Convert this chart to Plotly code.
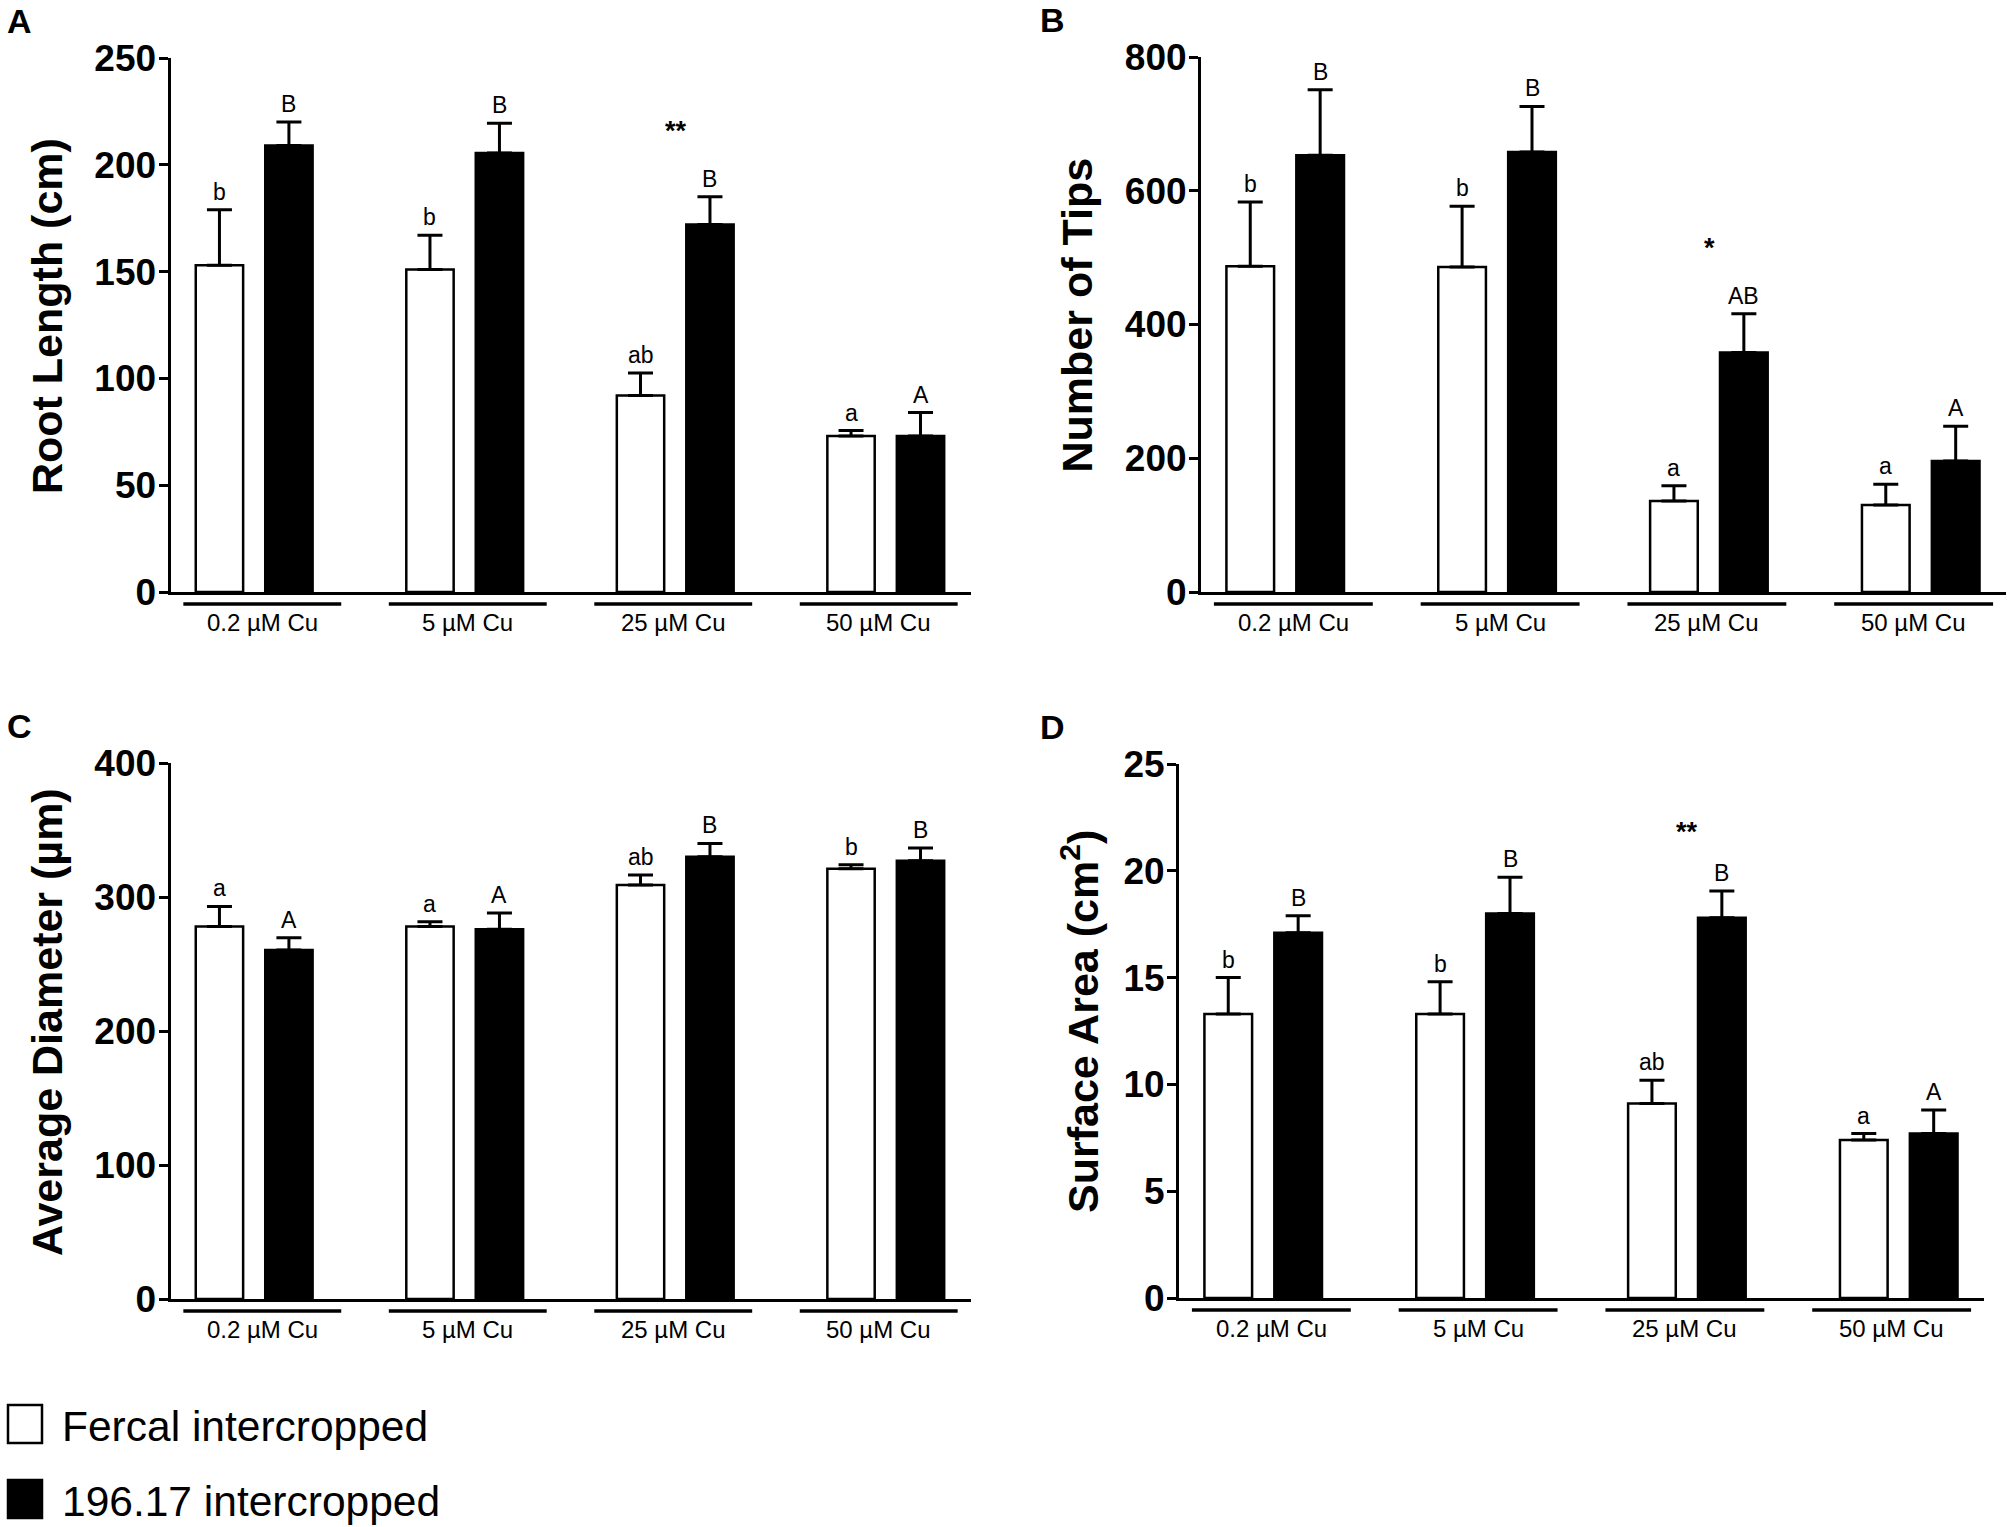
import plotly.graph_objects as go

# Data
categories = ["0.2 µM Cu", "5 µM Cu", "25 µM Cu", "50 µM Cu"]

root_fercal = [153, 151, 92, 73]
root_fercal_err = [26, 16, 10.5, 2.6]
root_196 = [209, 205.5, 172, 73]
root_196_err = [11, 14, 13, 11]
root_letters_fercal = ["b", "b", "ab", "a"]
root_letters_196 = ["B", "B", "B", "A"]

tips_fercal = [487, 486, 136, 130]
tips_fercal_err = [96, 91, 23, 31]
tips_196 = [653, 658, 358, 196]
tips_196_err = [98, 68, 58, 52]
tips_letters_fercal = ["b", "b", "a", "a"]
tips_letters_196 = ["B", "B", "AB", "A"]

diam_fercal = [278, 278, 309, 321]
diam_fercal_err = [15, 3.5, 7.5, 3]
diam_196 = [260.5, 276, 330, 327]
diam_196_err = [9, 12, 10, 9.5]
diam_letters_fercal = ["a", "a", "ab", "b"]
diam_letters_196 = ["A", "A", "B", "B"]

area_fercal = [13.3, 13.3, 9.1, 7.4]
area_fercal_err = [1.7, 1.5, 1.1, 0.3]
area_196 = [17.1, 18.0, 17.8, 7.7]
area_196_err = [0.8, 1.7, 1.25, 1.1]
area_letters_fercal = ["b", "b", "ab", "a"]
area_letters_196 = ["B", "B", "B", "A"]

series_names = ["Fercal intercropped", "196.17 intercropped"]

W, H = 2007, 1527
FONT = "Liberation Sans, Arial, sans-serif"
WHITE_OFF, BLACK_OFF, BAR_W = -0.28, 0.05, 0.225


def fx(p):
    return p / W


def fy(p):
    return 1 - p / H


# panel: letter, y title, y range, dtick, data, stars, pixel box (x0, x1, ytop, ybottom), title x
panels = [
    dict(tag="A", title="Root Length (cm)", ymax=250, dtick=50,
         f=root_fercal, fe=root_fercal_err, b=root_196, be=root_196_err,
         lf=root_letters_fercal, lb=root_letters_196, star=(2, "**", 216),
         box=(170.5, 970.5, 58, 592), tx=47),
    dict(tag="B", title="Number of Tips", ymax=800, dtick=200,
         f=tips_fercal, fe=tips_fercal_err, b=tips_196, be=tips_196_err,
         lf=tips_letters_fercal, lb=tips_letters_196, star=(2, "*", 514),
         box=(1201, 2006, 57, 592), tx=1076),
    dict(tag="C", title="Average Diameter (µm)", ymax=400, dtick=100,
         f=diam_fercal, fe=diam_fercal_err, b=diam_196, be=diam_196_err,
         lf=diam_letters_fercal, lb=diam_letters_196, star=None,
         box=(170.5, 970.5, 763, 1299), tx=47),
    dict(tag="D", title="Surface Area (cm<sup>2</sup>)", ymax=25, dtick=5,
         f=area_fercal, fe=area_fercal_err, b=area_196, be=area_196_err,
         lf=area_letters_fercal, lb=area_letters_196, star=(2, "**", 21.8),
         box=(1179, 1984, 764, 1298), tx=1080),
]

xpos = list(range(len(categories)))

fig = go.Figure()
annotations = []
shapes = []

for k, p in enumerate(panels, start=1):
    xa = "x" if k == 1 else f"x{k}"
    ya = "y" if k == 1 else f"y{k}"
    x0, x1, ytop, ybot = p["box"]

    fig.add_trace(go.Bar(
        x=xpos, y=p["f"], name=series_names[0], xaxis=xa, yaxis=ya,
        offset=WHITE_OFF, width=BAR_W,
        marker=dict(color="white", line=dict(color="black", width=2.5)),
        error_y=dict(type="data", symmetric=False, array=p["fe"],
                     arrayminus=[0] * len(p["fe"]), color="black",
                     thickness=3, width=12.5),
        showlegend=False,
    ))
    fig.add_trace(go.Bar(
        x=xpos, y=p["b"], name=series_names[1], xaxis=xa, yaxis=ya,
        offset=BLACK_OFF, width=BAR_W,
        marker=dict(color="black", line=dict(color="black", width=2.5)),
        error_y=dict(type="data", symmetric=False, array=p["be"],
                     arrayminus=[0] * len(p["be"]), color="black",
                     thickness=3, width=12.5),
        showlegend=False,
    ))

    fig.layout[xa.replace("x", "xaxis")] = dict(
        domain=[fx(x0), fx(x1)], anchor=ya, range=[-0.4, 3.4],
        showline=True, linewidth=3, linecolor="black", ticks="",
        showticklabels=False, showgrid=False, zeroline=False, fixedrange=True,
        automargin=False,
    )
    fig.layout[ya.replace("y", "yaxis")] = dict(
        domain=[fy(ybot), fy(ytop)], anchor=xa, range=[0, p["ymax"]],
        dtick=p["dtick"], showline=True, linewidth=3, linecolor="black",
        ticks="outside", ticklen=9, tickwidth=3, tickcolor="black",
        ticklabelstandoff=-5,
        tickfont=dict(family=FONT, size=37, color="black", weight="bold"),
        showgrid=False, zeroline=False, fixedrange=True, automargin=False,
    )

    # significance letters above the error bars
    for i in xpos:
        annotations.append(dict(
            x=i + WHITE_OFF + BAR_W / 2, y=p["f"][i] + p["fe"][i],
            xref=xa, yref=ya, text=p["lf"][i], showarrow=False,
            yanchor="bottom", yshift=3,
            font=dict(family=FONT, size=23, color="black")))
        annotations.append(dict(
            x=i + BLACK_OFF + BAR_W / 2, y=p["b"][i] + p["be"][i],
            xref=xa, yref=ya, text=p["lb"][i], showarrow=False,
            yanchor="bottom", yshift=3,
            font=dict(family=FONT, size=23, color="black")))

    if p["star"]:
        si, stxt, sy = p["star"]
        annotations.append(dict(
            x=si, y=sy, xref=xa, yref=ya, text=stxt, showarrow=False,
            yanchor="middle",
            font=dict(family=FONT, size=27, color="black", weight="bold")))

    # group underlines and labels
    for i, cat in enumerate(categories):
        cx = 1.5 + (i - 1.5) * 0.976
        shapes.append(dict(
            type="line", xref=xa, yref="paper",
            x0=cx - 0.375, x1=cx + 0.375, y0=fy(ybot + 12), y1=fy(ybot + 12),
            line=dict(color="black", width=3.5)))
        annotations.append(dict(
            x=cx, y=fy(ybot + 30), xref=xa, yref="paper", text=cat,
            showarrow=False, yanchor="middle",
            font=dict(family=FONT, size=24, color="black")))

    # y axis title
    annotations.append(dict(
        x=fx(p["tx"]), y=fy((ytop + ybot) / 2 - 9), xref="paper", yref="paper",
        text=p["title"], textangle=-90, showarrow=False,
        xanchor="center", yanchor="middle",
        font=dict(family=FONT, size=43, color="black", weight="bold")))

    # panel letter
    annotations.append(dict(
        x=fx(19 if p["tag"] in "AC" else 1052), y=fy(ytop - 37),
        xref="paper", yref="paper", text=p["tag"], showarrow=False,
        xanchor="center", yanchor="middle",
        font=dict(family=FONT, size=34, color="black", weight="bold")))

# legend drawn as boxes + text
legend_rows = [(1424, "white"), (1499, "black")]
for (cy, fill), name in zip(legend_rows, series_names):
    shapes.append(dict(
        type="rect", xref="paper", yref="paper",
        x0=fx(8), x1=fx(42), y0=fy(cy + 19), y1=fy(cy - 19),
        fillcolor=fill, line=dict(color="black", width=2.5)))
    annotations.append(dict(
        x=fx(60), y=fy(cy + 2), xref="paper", yref="paper", text=name,
        showarrow=False, xanchor="left", yanchor="middle",
        font=dict(family=FONT, size=42.5, color="black")))

fig.update_layout(
    width=W, height=H,
    margin=dict(l=0, r=0, t=0, b=0, autoexpand=False),
    paper_bgcolor="white", plot_bgcolor="white",
    barmode="overlay", showlegend=False,
    annotations=annotations, shapes=shapes,
    font=dict(family=FONT, color="black"),
)

# drop the default page margin so the figure sits at the window's top-left corner
fig.write_html(
    "out.html",
    config={"displayModeBar": False},
    post_script="document.body.style.margin='0';document.body.style.overflow='hidden';",
)
